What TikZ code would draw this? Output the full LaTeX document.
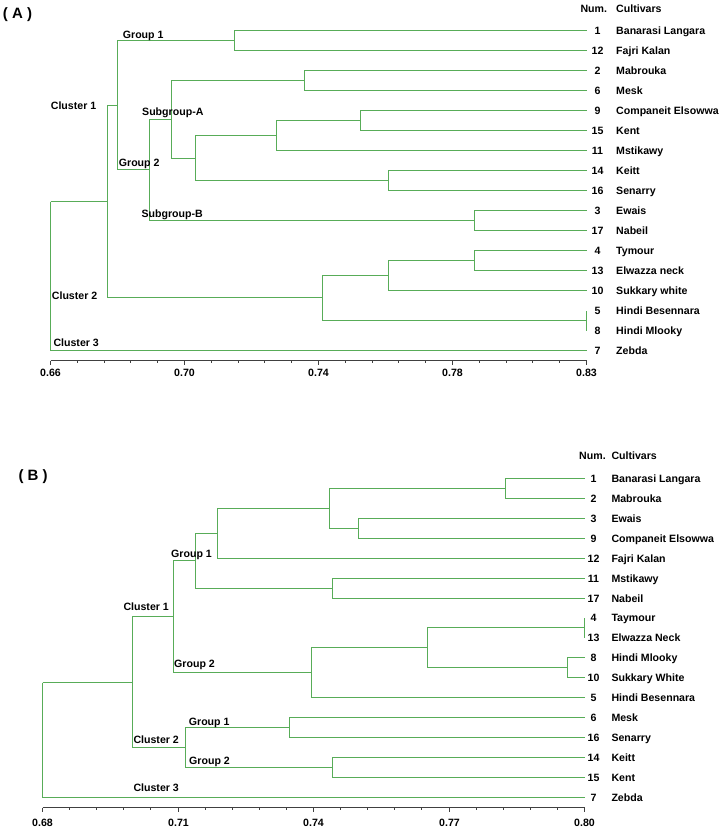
\documentclass[tikz,border=0pt]{standalone}
\usepackage{fontspec}
\setmainfont{Liberation Sans}
\definecolor{dendro}{RGB}{88,172,88}
\begin{document}
\begin{tikzpicture}[x=1pt,y=-1pt,
  lbl/.style={font=\bfseries\fontsize{10.6}{12}\selectfont, inner sep=0pt, text height=7.6pt, text depth=0pt},
  lblL/.style={lbl, anchor=west},
  panel/.style={font=\bfseries\fontsize{15}{17}\selectfont, inner sep=0pt, anchor=west, text height=10.8pt, text depth=0pt},
  link/.style={draw=dendro, line width=1.6pt},
  tick/.style={draw=black!75, line width=1.1pt}]
\useasboundingbox (0,0) rectangle (724,831);

% ================= Panel A =================
\node[panel] (pA) at (2.7,12.7) {( A )};
\node[lblL] (hAnum) at (580.3,8.3) {Num.};
\node[lblL] (hAcult) at (616,8.3) {Cultivars};

\foreach \n/\t/\i in {1/Banarasi Langara/0, 12/Fajri Kalan/1, 2/Mabrouka/2, 6/Mesk/3,
  9/Companeit Elsowwa/4, 15/Kent/5, 11/Mstikawy/6, 14/Keitt/7, 16/Senarry/8,
  3/Ewais/9, 17/Nabeil/10, 4/Tymour/11, 13/Elwazza neck/12, 10/Sukkary white/13,
  5/Hindi Besennara/14, 8/Hindi Mlooky/15, 7/Zebda/16} {
  \pgfmathsetmacro\yy{30.5+20*\i}
  \coordinate (A\n) at (586.5,\yy);
  \node[lbl] (An\n) at (597.5,\yy) {\n};
  \node[lblL] (At\n) at (616,\yy) {\t};
}

\coordinate (a126) at (234.5,40.5);
\coordinate (a26) at (304.5,80.5);
\coordinate (a915) at (360.5,120.5);
\coordinate (a91511) at (276.5,135.5);
\coordinate (a1416) at (388.5,180.5);
\coordinate (aA2) at (195.5,158.5);
\coordinate (asubA) at (171.5,119.5);
\coordinate (asubB) at (474.5,220.5);
\coordinate (ag2) at (149.5,169.5);
\coordinate (acl1) at (117.5,105.5);
\coordinate (a413) at (474.5,260.5);
\coordinate (a41310) at (388.5,275.5);
\coordinate (a58) at (586.5,320.5);
\coordinate (acl2) at (322.5,297.5);
\coordinate (acl12) at (107.5,201.5);
\coordinate (aroot) at (50.5,201.5);

\path[link]
  (a126) |- (A1) (a126) |- (A12)
  (a26) |- (A2) (a26) |- (A6)
  (a915) |- (A9) (a915) |- (A15)
  (a91511) |- (a915) (a91511) |- (A11)
  (a1416) |- (A14) (a1416) |- (A16)
  (aA2) |- (a91511) (aA2) |- (a1416)
  (asubA) |- (a26) (asubA) |- (aA2)
  (asubB) |- (A3) (asubB) |- (A17)
  (ag2) |- (asubA) (ag2) |- (asubB)
  (acl1) |- (a126) (acl1) |- (ag2)
  (a413) |- (A4) (a413) |- (A13)
  (a41310) |- (a413) (a41310) |- (A10)
  (a58) |- (A5) (a58) |- (A8)
  (acl2) |- (a41310) (acl2) |- (a58)
  (acl12) |- (acl1) (acl12) |- (acl2)
  (aroot) |- (acl12) (aroot) |- (A7);

\node[lblL] (lAg1) at (122.7,34.7) {Group 1};
\node[lblL] (lAc1) at (50.7,105.7) {Cluster 1};
\node[lblL] (lAsa) at (142,111.7) {Subgroup-A};
\node[lblL] (lAg2) at (118.7,162.3) {Group 2};
\node[lblL] (lAsb) at (141.3,213.3) {Subgroup-B};
\node[lblL] (lAc2) at (51.7,295.7) {Cluster 2};
\node[lblL] (lAc3) at (53.3,342.7) {Cluster 3};

% axis A
\coordinate (axA0) at (50.5,360.5);
\coordinate (axA1) at (586.5,360.5);
\draw[tick] (axA0) -- (axA1);
\foreach \k in {0,...,20} {
  \pgfmathsetmacro\xx{round(50+26.8*\k)+0.5}
  \pgfmathtruncatemacro\mm{mod(\k,5)}
  \ifnum\mm=0
    \draw[tick] (\xx,360.5) -- (\xx,365);
  \else
    \draw[tick] (\xx,360.5) -- (\xx,363);
  \fi
}
\foreach \v/\k in {0.66/0, 0.70/5, 0.74/10, 0.78/15, 0.83/20} {
  \pgfmathsetmacro\xx{round(50+26.8*\k)+0.5}
  \node[lbl] (axAl\k) at (\xx,372.7) {\v};
}

% ================= Panel B =================
\node[panel] (pB) at (18.3,475) {( B )};
\node[lblL] (hBnum) at (579,456) {Num.};
\node[lblL] (hBcult) at (611.3,456) {Cultivars};

\foreach \n/\t/\yy in {1/Banarasi Langara/478.5, 2/Mabrouka/498.5, 3/Ewais/518.5,
  9/Companeit Elsowwa/538.5, 12/Fajri Kalan/558.5, 11/Mstikawy/578.5, 17/Nabeil/598.5,
  4/Taymour/617.5, 13/Elwazza Neck/637.5, 8/Hindi Mlooky/657.5, 10/Sukkary White/677.5,
  5/Hindi Besennara/697.5, 6/Mesk/717.5, 16/Senarry/737.5, 14/Keitt/757.5,
  15/Kent/777.5, 7/Zebda/797.5} {
  \coordinate (B\n) at (584.5,\yy);
  \node[lbl] (Bn\n) at (593.5,\yy) {\n};
  \node[lblL] (Bt\n) at (611.3,\yy) {\t};
}

\coordinate (b12) at (505.5,488.5);
\coordinate (b39) at (358.5,528.5);
\coordinate (b1239) at (329.5,508.5);
\coordinate (bU) at (217.5,533.5);
\coordinate (b1117) at (332.5,588.5);
\coordinate (bg1) at (195.5,560.5);
\coordinate (b413) at (584.5,627.5);
\coordinate (b810) at (567.5,667.5);
\coordinate (b410) at (427.5,647.5);
\coordinate (bg2) at (311.5,672.5);
\coordinate (bcl1) at (173.5,616.5);
\coordinate (b616) at (289.5,727.5);
\coordinate (b1415) at (332.5,767.5);
\coordinate (bcl2) at (185.5,747.5);
\coordinate (bcl12) at (132.5,682.5);
\coordinate (broot) at (42.5,682.5);

\path[link]
  (b12) |- (B1) (b12) |- (B2)
  (b39) |- (B3) (b39) |- (B9)
  (b1239) |- (b12) (b1239) |- (b39)
  (bU) |- (b1239) (bU) |- (B12)
  (b1117) |- (B11) (b1117) |- (B17)
  (bg1) |- (bU) (bg1) |- (b1117)
  (b413) |- (B4) (b413) |- (B13)
  (b810) |- (B8) (b810) |- (B10)
  (b410) |- (b413) (b410) |- (b810)
  (bg2) |- (b410) (bg2) |- (B5)
  (bcl1) |- (bg1) (bcl1) |- (bg2)
  (b616) |- (B6) (b616) |- (B16)
  (b1415) |- (B14) (b1415) |- (B15)
  (bcl2) |- (b616) (bcl2) |- (b1415)
  (bcl12) |- (bcl1) (bcl12) |- (bcl2)
  (broot) |- (bcl12) (broot) |- (B7);

\node[lblL] (lBg1) at (171,553.3) {Group 1};
\node[lblL] (lBc1) at (123.3,606.7) {Cluster 1};
\node[lblL] (lBg2) at (174,663.3) {Group 2};
\node[lblL] (lBg1b) at (188.7,721.7) {Group 1};
\node[lblL] (lBc2) at (133.3,740) {Cluster 2};
\node[lblL] (lBg2b) at (189,760.7) {Group 2};
\node[lblL] (lBc3) at (133.3,787.3) {Cluster 3};

% axis B
\coordinate (axB0) at (42.5,807.5);
\coordinate (axB1) at (584.5,807.5);
\draw[tick] (axB0) -- (axB1);
\foreach \k in {0,...,20} {
  \pgfmathsetmacro\xx{round(42+27.1*\k)+0.5}
  \pgfmathtruncatemacro\mm{mod(\k,5)}
  \ifnum\mm=0
    \draw[tick] (\xx,807.5) -- (\xx,812);
  \else
    \draw[tick] (\xx,807.5) -- (\xx,810);
  \fi
}
\foreach \v/\k in {0.68/0, 0.71/5, 0.74/10, 0.77/15, 0.80/20} {
  \pgfmathsetmacro\xx{round(42+27.1*\k)+0.5}
  \node[lbl] (axBl\k) at (\xx,822.3) {\v};
}
\end{tikzpicture}
\end{document}
